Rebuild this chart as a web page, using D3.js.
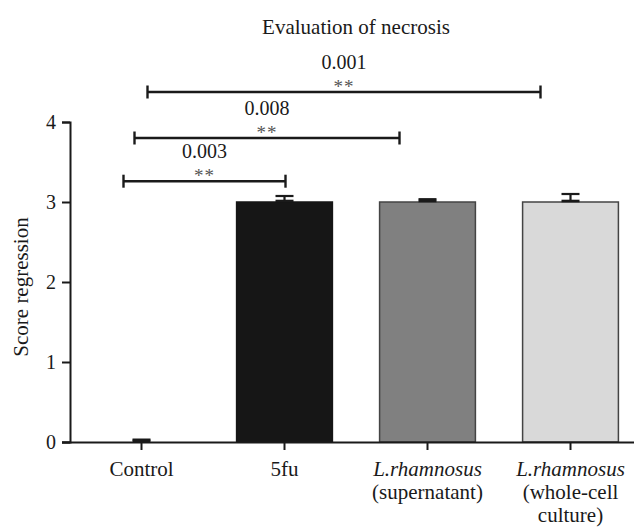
<!DOCTYPE html>
<html>
<head>
<meta charset="utf-8">
<script src="https://cdn.jsdelivr.net/npm/d3@7"></script>
</head>
<body style="margin:0; background:#fff">
<svg id="svg" width="634" height="528"></svg>
<script>
// データ
const categories = ["Control", "5fu", "L.rhamnosus (supernatant)", "L.rhamnosus (whole-cell culture)"];
const means = [0, 3.0, 3.0, 3.0];
const errors = [0.03, 0.075, 0.035, 0.1];
const fills = ["#ffffff", "#161616", "#808080", "#d9d9d9"];
const yTicks = [0, 1, 2, 3, 4];

// 有意差の比較
const compFrom = ["Control", "Control", "Control"];
const compTo = ["5fu", "L.rhamnosus (supernatant)", "L.rhamnosus (whole-cell culture)"];
const compP = ["0.003", "0.008", "0.001"];
const compStars = ["**", "**", "**"];
const compLevel = [3.26, 3.8, 4.375];

// ラベルの行
const labelLines = [
  [{ t: "Control", i: false }],
  [{ t: "5fu", i: false }],
  [{ t: "L.rhamnosus", i: true }, { t: "(supernatant)", i: false }],
  [{ t: "L.rhamnosus", i: true }, { t: "(whole-cell", i: false }, { t: "culture)", i: false }]
];

const svg = d3.select("#svg");
const axisColor = "#1a1a1a";
const fontSize = 21;
const font = "Liberation Serif";

const x = d3.scaleBand().domain(categories).range([70, 642]).paddingInner(0.33).paddingOuter(0.165);
const y = d3.scaleLinear().domain([0, 4]).range([442, 122]);
const cx = (c) => x(c) + x.bandwidth() / 2;

// ブラケットの端のずらし（px）
const bracketOffset = [[-18, 1], [-7, -28], [6, -30]];

//テキストを追加する
function addText(parent, tx, ty, str, size) {
  return parent.append("text")
    .attr("x", tx).attr("y", ty)
    .attr("text-anchor", "middle")
    .attr("font-family", font)
    .attr("font-size", size)
    .attr("fill", axisColor)
    .text(str);
}

//タイトル
addText(svg, (70 + 642) / 2, 34, "Evaluation of necrosis", fontSize);

//Y軸ラベル
addText(svg, 0, 0, "Score regression", fontSize)
  .attr("transform", "translate(28,287) rotate(-90)");

//棒
svg.append("g").selectAll("rect")
  .data(categories)
  .join("rect")
  .attr("x", (d) => x(d))
  .attr("width", x.bandwidth())
  .attr("y", (d, i) => y(means[i]))
  .attr("height", (d, i) => y(0) - y(means[i]))
  .attr("fill", (d, i) => fills[i])
  .attr("stroke", (d, i) => (i == 1 ? "#161616" : "#444"))
  .attr("stroke-width", 1.5);

//エラーバー
const eb = svg.append("g").attr("stroke", axisColor).attr("stroke-width", 2.2);
categories.forEach((c, i) => {
  const xc = cx(c);
  const top = y(means[i] + errors[i]);
  const base = y(means[i]);
  eb.append("line").attr("x1", xc).attr("x2", xc).attr("y1", top).attr("y2", base);
  eb.append("line").attr("x1", xc - 9).attr("x2", xc + 9).attr("y1", top).attr("y2", top);
  eb.append("line").attr("x1", xc - 9).attr("x2", xc + 9).attr("y1", base - 1).attr("y2", base - 1).attr("stroke-width", 2.6);
});

//Y軸
const yAxis = svg.append("g")
  .attr("transform", "translate(70,0)")
  .call(d3.axisLeft(y).tickValues(yTicks).tickFormat(d3.format("d")).tickSize(8).tickPadding(6));
yAxis.select(".domain").attr("stroke", axisColor).attr("stroke-width", 2);
yAxis.selectAll(".tick line").attr("stroke", axisColor).attr("stroke-width", 2);
yAxis.selectAll(".tick text")
  .attr("font-family", font)
  .attr("font-size", 20)
  .attr("fill", axisColor);

//X軸
const xAxis = svg.append("g")
  .attr("transform", "translate(0,442)")
  .call(d3.axisBottom(x).tickSize(8).tickSizeOuter(0).tickFormat(""));
xAxis.select(".domain").attr("stroke", axisColor).attr("stroke-width", 2)
  .attr("d", "M62,0.5H642");
xAxis.selectAll(".tick line").attr("stroke", axisColor).attr("stroke-width", 2);

//X軸ラベル
categories.forEach((c, i) => {
  labelLines[i].forEach((ln, j) => {
    addText(svg, cx(c), 476 + j * 23, ln.t, fontSize)
      .attr("font-style", ln.i ? "italic" : "normal");
  });
});

//有意差ブラケット
const br = svg.append("g");
compP.forEach((p, i) => {
  const x1 = cx(compFrom[i]) + bracketOffset[i][0];
  const x2 = cx(compTo[i]) + bracketOffset[i][1];
  const yy = y(compLevel[i]);
  const g = br.append("g").attr("stroke", axisColor).attr("stroke-width", 2.4);
  g.append("line").attr("x1", x1).attr("x2", x2).attr("y1", yy).attr("y2", yy);
  g.append("line").attr("x1", x1).attr("x2", x1).attr("y1", yy - 6.5).attr("y2", yy + 6.5);
  g.append("line").attr("x1", x2).attr("x2", x2).attr("y1", yy - 6.5).attr("y2", yy + 6.5);
  const mid = (x1 + x2) / 2;
  addText(br, mid, yy - 23, p, 20);
  addText(br, mid, yy + 1, compStars[i], 19)
    .attr("letter-spacing", 1)
    .attr("fill", "#555");
});
</script>
</body>
</html>
